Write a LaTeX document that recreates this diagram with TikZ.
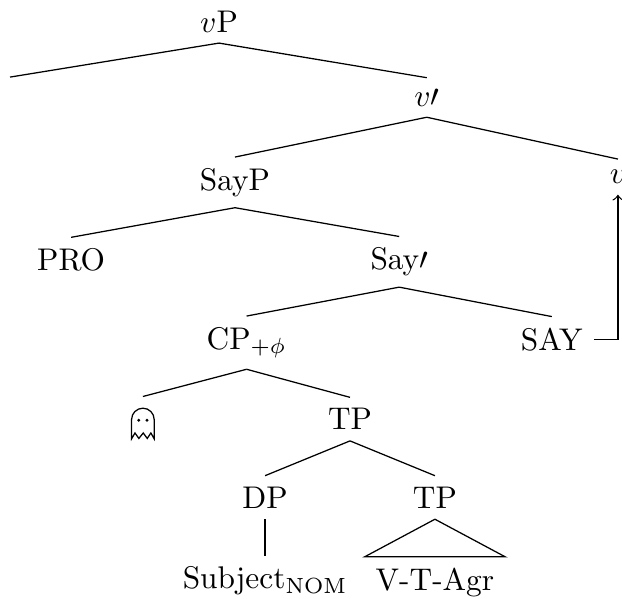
\documentclass[tikz,border=0pt]{standalone}
\usepackage{amsmath, amssymb}
\usepackage{tikz}
\usetikzlibrary{shapes,arrows}
\newcommand{\ghostsym}{\tikz[scale=1.163,baseline=0pt]{%
    \draw (0,0) -- (0,5.3pt) arc (180:0:3.1pt) -- (6.2pt,0) -- (5.3pt,1.6pt) -- (4.3pt,0.1pt) -- (3.2pt,1.6pt) -- (2pt,0.1pt) -- (0.93pt,1.6pt) -- cycle;
    \fill (1.95pt,5.1pt) circle (0.45pt);
    \fill (4.25pt,5.1pt) circle (0.45pt);}}

\begin{document}
\begin{tikzpicture}[node distance=25pt]
    \tikzstyle{roof}=[minimum width=44.5pt]

    \useasboundingbox (-69.9pt,6.8pt) rectangle (128.6pt,-184.3pt);

    \node(vP) {$v$P};
    \coordinate[below of=vP,xshift=-66.7pt,yshift=7.2pt] (spec);
    \node(vbar) [below of=vP,xshift=66.3pt,yshift=0.7pt] {$v\prime$};
    \node(SayP) [below of=vbar,xshift=-61.2pt,yshift=-2.1pt] {SayP};
    \node(vh)   [below of=vbar,xshift=61pt,yshift=-0.35pt] {$v$};
    \node(PRO)  [below of=SayP,xshift=-52.3pt,yshift=0.3pt] {PRO};
    \node(Saybar) [below of=SayP,xshift=52.4pt,yshift=-0.35pt] {Say$\prime$};
    \node(CP)   [below of=Saybar,xshift=-48.7pt,yshift=-0.8pt] {CP$_{+\phi}$};
    \node(SAY)  [below of=Saybar,xshift=48.7pt,yshift=0.3pt] {SAY};
    \node(ghost) [below of=CP,xshift=-33.1pt,yshift=-0.8pt] {\ghostsym};
    \node(TP)   [below of=CP,xshift=33pt,yshift=0.6pt] {TP};
    \node(DP)   [below of=TP,xshift=-27.1pt] {DP};
    \node(TPl)  [below of=TP,xshift=27.1pt] {TP};
    \node(Subj) [below of=DP,yshift=-1.65pt] {Subject$_{\text{NOM}}$};
    \node(Agr)  [roof,below of=TPl,yshift=-2.1pt] {V-T-Agr};

    \draw (vP.south) -- (spec);
    \draw (vP.south) -- (vbar.north);
    \draw (vbar.south) -- (SayP.north);
    \draw (vbar.south) -- (vh.north);
    \draw (SayP.south) -- (PRO.north);
    \draw (SayP.south) -- (Saybar.north);
    \draw (Saybar.south) -- (CP.north);
    \draw (Saybar.south) -- (SAY.north);
    \draw (CP.south) -- (ghost.north);
    \draw (CP.south) -- (TP.north);
    \draw (TP.south) -- (DP.north);
    \draw (TP.south) -- (TPl.north);
    \draw (DP.south) -- (Subj.north);
    \draw (TPl.south) -- (Agr.north west) -- (Agr.north east) -- cycle;
    \draw [->] (SAY.east) -| (vh.south);

\end{tikzpicture}
\end{document}
